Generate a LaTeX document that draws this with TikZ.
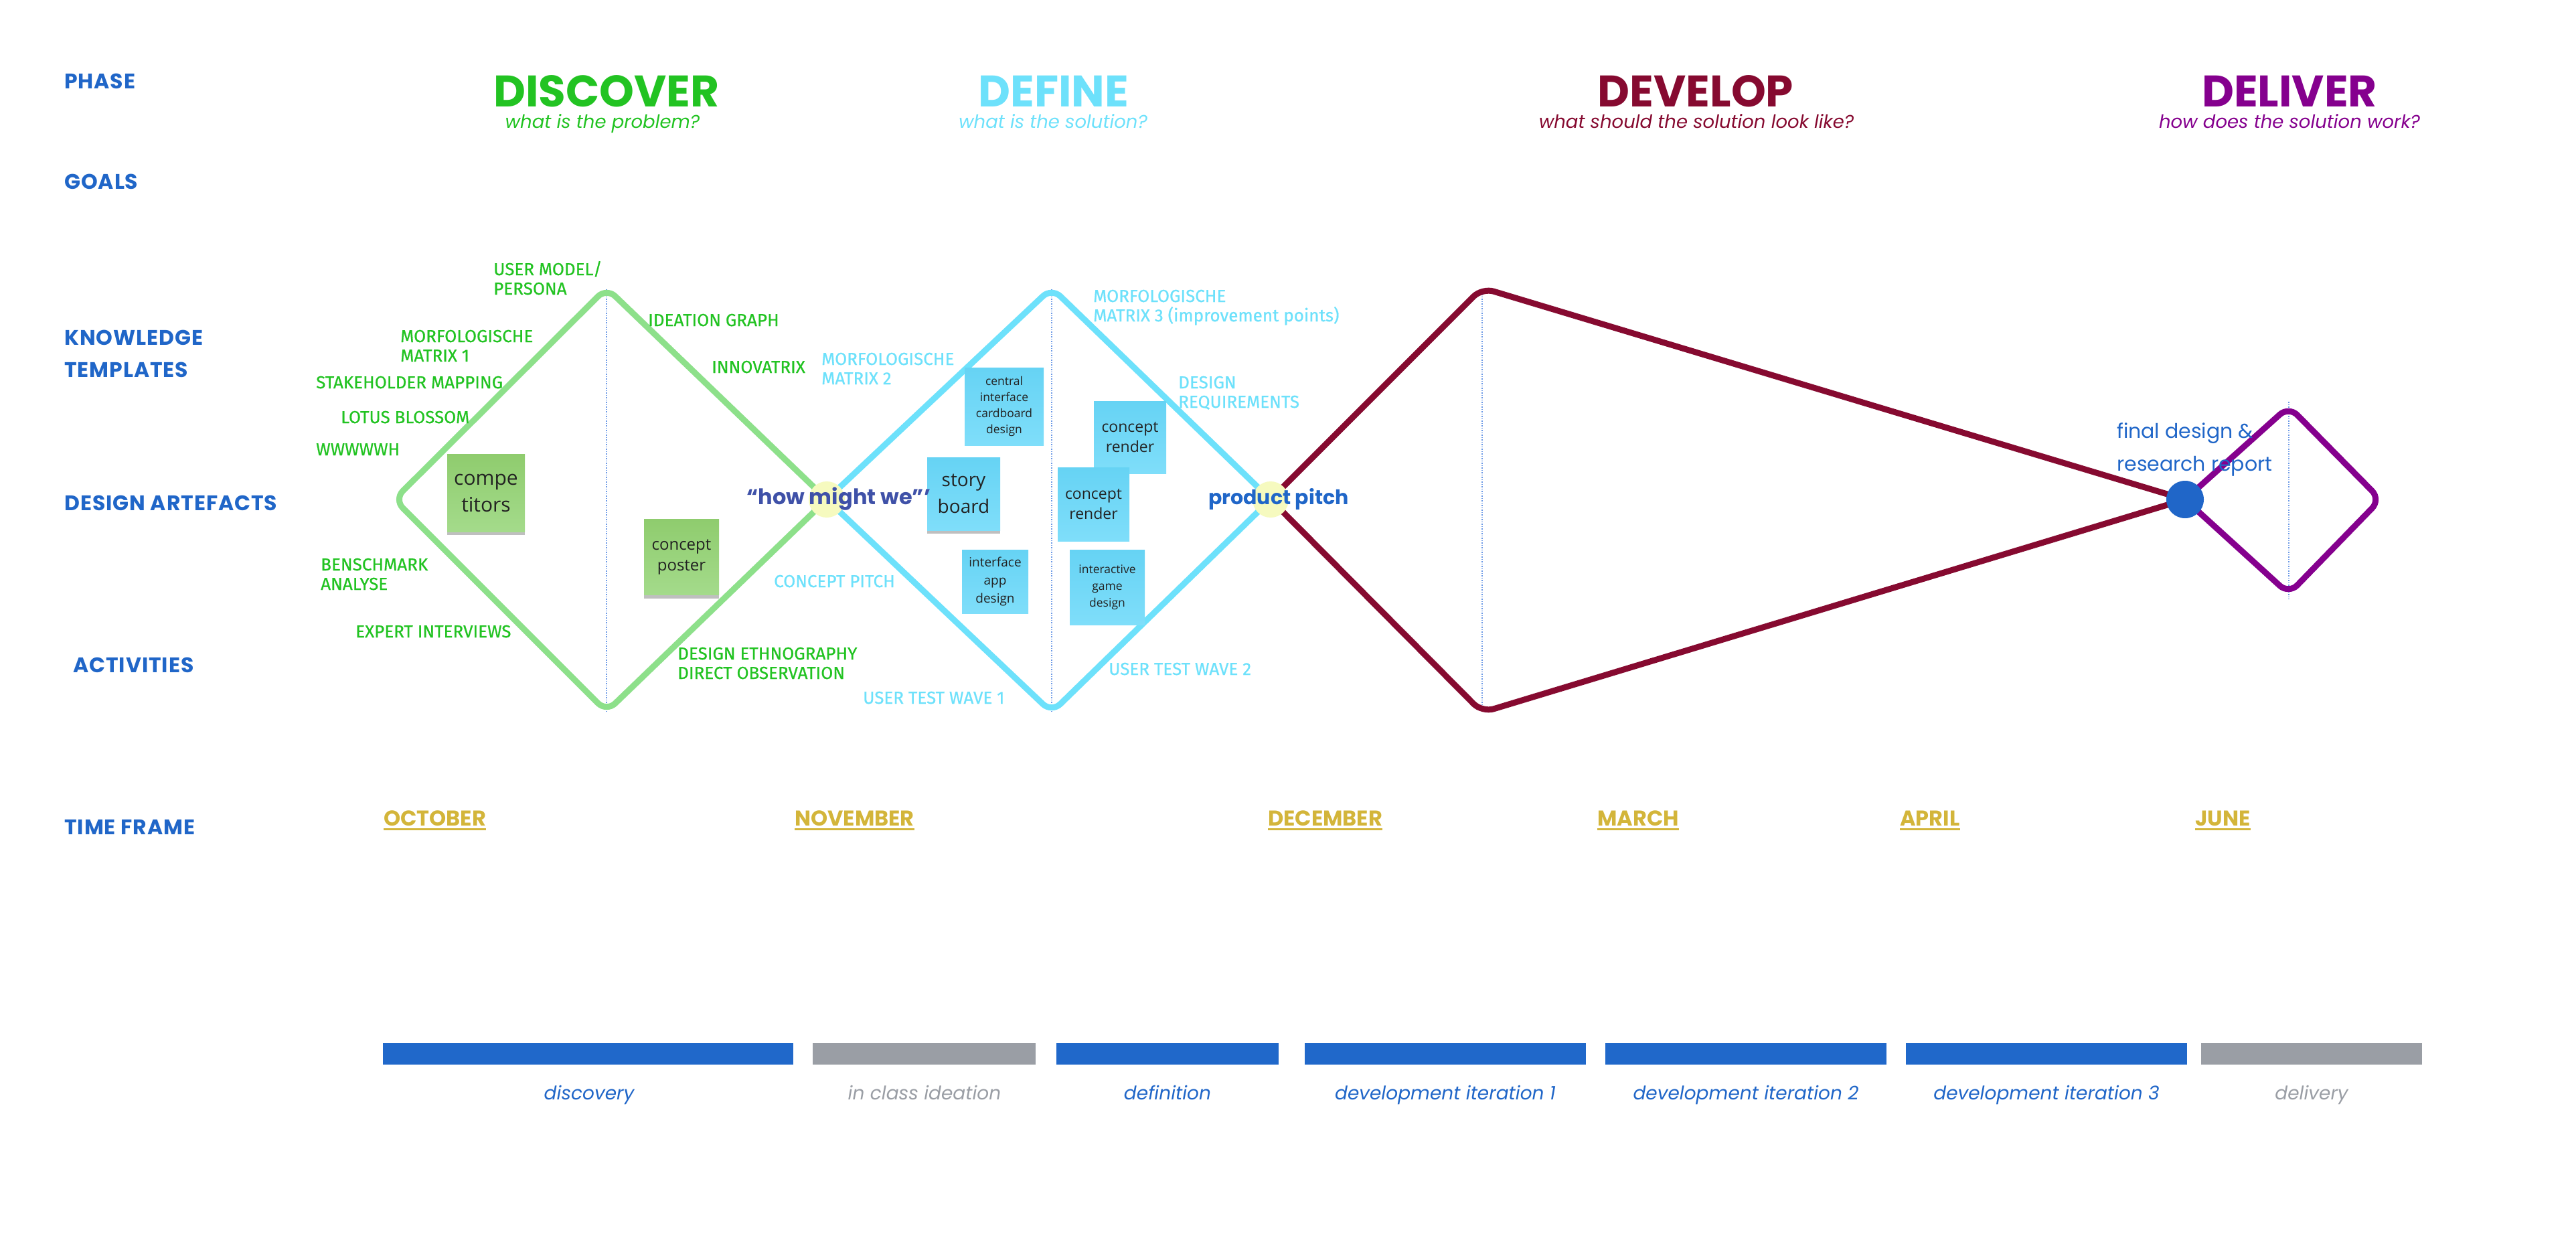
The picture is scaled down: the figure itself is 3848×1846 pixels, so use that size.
\documentclass[tikz,border=0pt]{standalone}
\usepackage{fontspec}
\usetikzlibrary{shadows}
\newfontfamily\futf{Poppins}
\newfontfamily\sidef{Poppins}[LetterSpace=3]
\newfontfamily\labf{Fira Sans}[FakeBold=0.6]
\newfontfamily\notef{Open Sans}
\definecolor{lblue}{HTML}{2066C8}
\definecolor{tgreen}{HTML}{22C322}
\definecolor{lgreen}{HTML}{8DE08A}
\definecolor{tcyan}{HTML}{6DE1FB}
\definecolor{dred}{HTML}{860A30}
\definecolor{purp}{HTML}{85008E}
\definecolor{indigo}{HTML}{3F51A8}
\definecolor{gold}{HTML}{D3B53A}
\definecolor{barblue}{HTML}{2068CA}
\definecolor{bargray}{HTML}{9A9EA5}
\definecolor{yel}{HTML}{F6FABF}
\definecolor{dotblue}{HTML}{6A98E6}
\definecolor{notetext}{HTML}{222222}
\definecolor{sgA}{HTML}{8FCC6E}
\definecolor{sgB}{HTML}{A4DB8B}
\definecolor{scA}{HTML}{66D3F4}
\definecolor{scB}{HTML}{7FDEFA}
\newcommand\twoln[2]{\vtop{\hbox{#1}\hbox{#2}}}
\begin{document}
\begin{tikzpicture}[x=1pt,y=-1pt,
  side/.style={anchor=base west, inner sep=0, text=lblue, font=\sidef\bfseries\fontsize{31.5}{36}\selectfont},
  phase/.style={anchor=base, inner sep=0, font=\futf\bfseries\fontsize{66}{70}\selectfont},
  phsub/.style={anchor=base, inner sep=0, font=\futf\itshape\fontsize{27.5}{30}\selectfont},
  lbl/.style={anchor=base west, inner sep=0, font=\labf\fontsize{26}{29}\selectfont},
  glbl/.style={lbl, text=tgreen},
  clbl/.style={lbl, text=tcyan},
  note/.style={inner sep=0, align=center, text=notetext},
  gnote/.style={note, top color=sgA, bottom color=sgB},
  cnote/.style={note, top color=scA, bottom color=scB},
  nshadow/.style={drop shadow={shadow xshift=0pt, shadow yshift=-5pt, opacity=.25, fill=black}},
  month/.style={anchor=base west, inner sep=0, text=gold, font=\futf\bfseries\fontsize{32}{36}\selectfont},
  barlbl/.style={anchor=base, inner sep=0, font=\futf\itshape\fontsize{28}{32}\selectfont},
  spot/.style={circle, fill=yel, minimum size=54pt, inner sep=0},
  midline/.style={draw=dotblue, line width=1.5pt, dotted},
  shapeline/.style={line width=9pt, rounded corners=18pt, line join=round}
]
\useasboundingbox (0,0) rectangle (3848,1846);
\fill[white] (0,0) rectangle (3848,1846);

% left column
\node[side] (sPhase) at (96,133) {PHASE};
\node[side] (sGoals) at (96,282) {GOALS};
\node[side] (sKnow) at (96,515) {KNOWLEDGE};
\node[side] (sTempl) at (96,563) {TEMPLATES};
\node[side] (sArt) at (96,762) {DESIGN ARTEFACTS};
\node[side] (sAct) at (109,1004) {ACTIVITIES};
\node[side] (sTime) at (96,1246) {TIME FRAME};

% phase headings
\node[phase, text=tgreen] (hDisc) at (906,160) {DISCOVER};
\node[phsub, text=tgreen] (qDisc) at (900,192) {what is the problem?};
\node[phase, text=tcyan] (hDef) at (1574,160) {DEFINE};
\node[phsub, text=tcyan] (qDef) at (1573,192) {what is the solution?};
\node[phase, text=dred] (hDev) at (2533,160) {DEVELOP};
\node[phsub, text=dred] (qDev) at (2534,192) {what should the solution look like?};
\node[phase, text=purp] (hDel) at (3420,160) {DELIVER};
\node[phsub, text=purp] (qDel) at (3420,192) {how does the solution work?};

% centre lines
\draw[midline] (906,432) -- (906,1063);
\draw[midline] (1571,432) -- (1571,1063);
\draw[midline] (2214,432) -- (2214,1063);
\draw[midline] (3419,600) -- (3419,895);

% diamonds
\draw[shapeline, draw=lgreen] (1235,746) -- (906,1063) -- (589,746) -- (906,430) -- (1235,746);
\draw[shapeline, draw=tcyan] (1235,746) -- (1571,430) -- (1898,746) -- (1571,1064) -- (1235,746);
\draw[shapeline, draw=dred] (3264,746) -- (2214,430) -- (1898,746) -- (2214,1064) -- (3264,746);
\draw[shapeline, draw=purp] (3264,746) -- (3419,607) -- (3556,746) -- (3419,887) -- (3264,746);

% sticky notes
\node[gnote, nshadow, minimum width=116pt, minimum height=116pt, font=\notef\fontsize{30}{40}\selectfont] (nComp) at (726,736) {compe\\titors};
\node[gnote, nshadow, minimum width=112pt, minimum height=113pt, font=\notef\fontsize{24}{31}\selectfont] (nPoster) at (1018,832) {concept\\poster};
\node[cnote, minimum width=118pt, minimum height=116pt, font=\notef\fontsize{17.5}{24}\selectfont] (nCentral) at (1500,607) {central\\interface\\cardboard\\design};
\node[cnote, nshadow, minimum width=109pt, minimum height=109pt, font=\notef\fontsize{28}{40}\selectfont] (nStory) at (1439.5,737.5) {story\\board};
\node[cnote, minimum width=99pt, minimum height=95pt, font=\notef\fontsize{19}{27}\selectfont] (nApp) at (1486.5,868.5) {interface\\app\\design};
\node[cnote, minimum width=108pt, minimum height=108pt, font=\notef\fontsize{23}{30}\selectfont] (nRender1) at (1688,653) {concept\\render};
\node[cnote, minimum width=107pt, minimum height=110pt, font=\notef\fontsize{23}{30}\selectfont] (nRender2) at (1633.5,753) {concept\\render};
\node[cnote, minimum width=112pt, minimum height=112pt, font=\notef\fontsize{17.5}{25}\selectfont] (nGame) at (1654,877) {interactive\\game\\design};

% junction spots
\node[spot] (spotHow) at (1235,746) {};
\node[spot] (spotPitch) at (1898,746) {};
\node[circle, fill=lblue, minimum size=56pt, inner sep=0] (spotFinal) at (3264,746) {};

% junction texts
\node[anchor=base west, inner sep=0, text=indigo, font=\futf\bfseries\fontsize{32}{36}\selectfont] (tHow) at (1115,753) {“how might we”’};
\node[anchor=base west, inner sep=0, text=lblue, font=\futf\bfseries\fontsize{30}{36}\selectfont] (tPitch) at (1805,753) {product pitch};
\node[anchor=base west, inner sep=0, text=lblue, font=\futf\fontsize{30}{49}\selectfont] (tFinal) at (3162,654) {\twoln{final design \&}{research report}};

% green labels
\node[glbl] (gUser) at (737,411) {\twoln{USER MODEL/}{PERSONA}};
\node[glbl] (gMorf1) at (598,511) {\twoln{MORFOLOGISCHE}{MATRIX 1}};
\node[glbl] (gStake) at (472,580) {STAKEHOLDER MAPPING};
\node[glbl] (gLotus) at (509,632) {LOTUS BLOSSOM};
\node[glbl] (gW) at (472,680) {WWWWWH};
\node[glbl] (gBench) at (479,852) {\twoln{BENSCHMARK}{ANALYSE}};
\node[glbl] (gExpert) at (531,952) {EXPERT INTERVIEWS};
\node[glbl] (gIdea) at (968,487) {IDEATION GRAPH};
\node[glbl] (gInno) at (1063,557) {INNOVATRIX};
\node[glbl] (gEthno) at (1012,985) {\twoln{DESIGN ETHNOGRAPHY}{DIRECT OBSERVATION}};

% cyan labels
\node[clbl] (cMorf2) at (1227,545) {\twoln{MORFOLOGISCHE}{MATRIX 2}};
\node[clbl] (cPitch) at (1156,877) {CONCEPT PITCH};
\node[clbl] (cWave1) at (1289,1051) {USER TEST WAVE 1};
\node[clbl] (cMorf3) at (1633,451) {\twoln{MORFOLOGISCHE}{MATRIX 3 (improvement points)}};
\node[clbl] (cReq) at (1760,580) {\twoln{DESIGN}{REQUIREMENTS}};
\node[clbl] (cWave2) at (1656,1008) {USER TEST WAVE 2};

% months
\foreach \nm/\xx/\tx in {mOct/573/OCTOBER, mNov/1187/NOVEMBER, mDec/1894/DECEMBER, mMar/2386/MARCH, mApr/2838/APRIL, mJun/3279/JUNE}{
  \node[month] (\nm) at (\xx,1233) {\tx};
  \draw[gold, line width=3pt] ([yshift=-5pt]\nm.base west) -- ([yshift=-5pt]\nm.base east);
}

% bars
\fill[barblue] (572,1558) rectangle (1185,1590);
\fill[bargray] (1214,1558) rectangle (1547,1590);
\fill[barblue] (1578,1558) rectangle (1910,1590);
\fill[barblue] (1949,1558) rectangle (2369,1590);
\fill[barblue] (2398,1558) rectangle (2818,1590);
\fill[barblue] (2847,1558) rectangle (3267,1590);
\fill[bargray] (3288,1558) rectangle (3618,1590);
\node[barlbl, text=lblue] (bDisc) at (880,1642) {discovery};
\node[barlbl, text=bargray] (bIdea) at (1381,1642) {in class ideation};
\node[barlbl, text=lblue] (bDef) at (1744,1642) {definition};
\node[barlbl, text=lblue] (bDev1) at (2159,1642) {development iteration 1};
\node[barlbl, text=lblue] (bDev2) at (2608,1642) {development iteration 2};
\node[barlbl, text=lblue] (bDev3) at (3057,1642) {development iteration 3};
\node[barlbl, text=bargray] (bDel) at (3453,1642) {delivery};
\end{tikzpicture}
\end{document}
